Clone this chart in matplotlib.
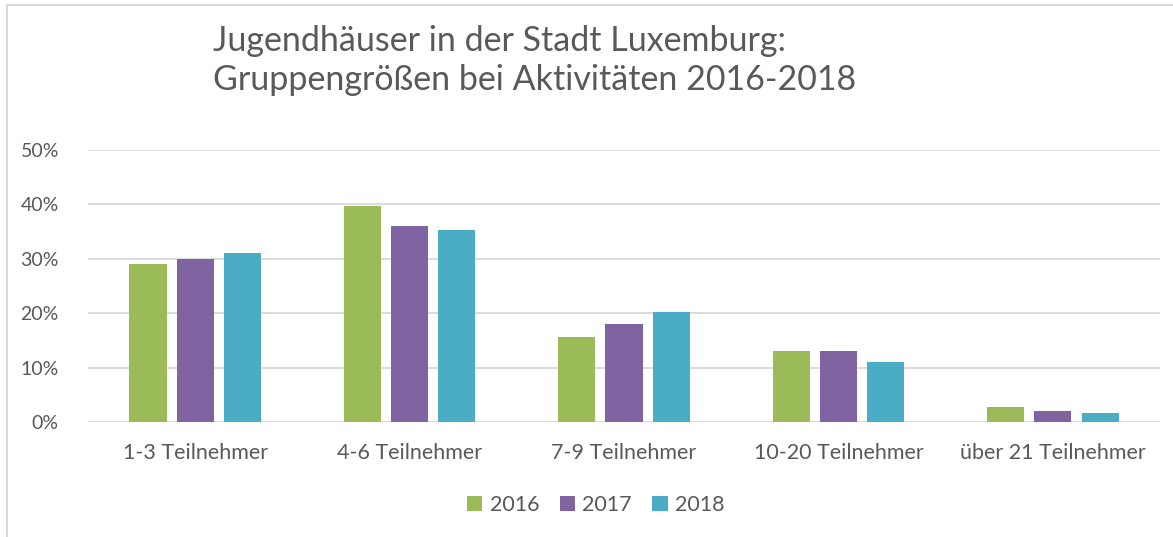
import numpy as np
import matplotlib.pyplot as plt
from matplotlib.lines import Line2D
from matplotlib.ticker import PercentFormatter

# Data
categories = ['1-3 Teilnehmer', '4-6 Teilnehmer', '7-9 Teilnehmer',
              '10-20 Teilnehmer', 'über 21 Teilnehmer']
years = ['2016', '2017', '2018']
vals_2016 = [29.0, 39.7, 15.6, 13.0, 2.7]
vals_2017 = [30.0, 36.0, 18.0, 13.0, 2.0]
vals_2018 = [31.0, 35.3, 20.2, 11.0, 1.6]
colors = ['#9BBB59', '#8064A2', '#4BACC6']

text_col = '#595959'
grid_col = '#D9D9D9'

plt.rcParams['font.family'] = ['Lato', 'DejaVu Sans']

fig = plt.figure(figsize=(11.73, 5.37), dpi=100)
ax = fig.add_axes([0.075, 0.214, 0.914, 0.507])

x = np.arange(len(categories))
width = 0.173
step = 0.22
for i, (vals, col) in enumerate(zip([vals_2016, vals_2017, vals_2018], colors)):
	ax.bar(x + (i - 1) * step, vals, width, color=col, label=years[i], zorder=3)

ax.set_xlim(-0.5, len(categories) - 0.5)
ax.set_ylim(0, 50)
ax.set_yticks(np.arange(0, 51, 10))
ax.yaxis.set_major_formatter(PercentFormatter(decimals=0))
ax.set_xticks(x)
ax.set_xticklabels(categories)
ax.tick_params(axis='both', length=0, colors=text_col)
ax.tick_params(axis='x', labelsize=15.5, pad=15)
ax.tick_params(axis='y', labelsize=14, pad=21)
ax.grid(axis='y', color=grid_col, linewidth=1.3, zorder=0)
for s in ax.spines.values():
	s.set_visible(False)

# Title, left aligned as in the reference
fig.text(213 / 1173, 1 - 41 / 537, 'Jugendhäuser in der Stadt Luxemburg:',
		fontsize=24.5, color=text_col, va='center', ha='left')
fig.text(213 / 1173, 1 - 80 / 537, 'Gruppengrößen bei Aktivitäten 2016-2018',
		fontsize=24.5, color=text_col, va='center', ha='left')

leg = fig.legend(loc='center', bbox_to_anchor=(0.508, 1 - 505 / 537), ncol=3,
		frameon=False, fontsize=15.5, handlelength=0.7, handleheight=0.7,
		handletextpad=0.35, columnspacing=0.95)
for t in leg.get_texts():
	t.set_color(text_col)

# Chart border (top and left edges visible)
fig.add_artist(Line2D([7 / 1173, 7 / 1173], [0, 1 - 5 / 537], color=grid_col, lw=1.5))
fig.add_artist(Line2D([7 / 1173, 1], [1 - 5 / 537, 1 - 5 / 537], color=grid_col, lw=1.5))

fig.savefig('out.png', dpi=100)
